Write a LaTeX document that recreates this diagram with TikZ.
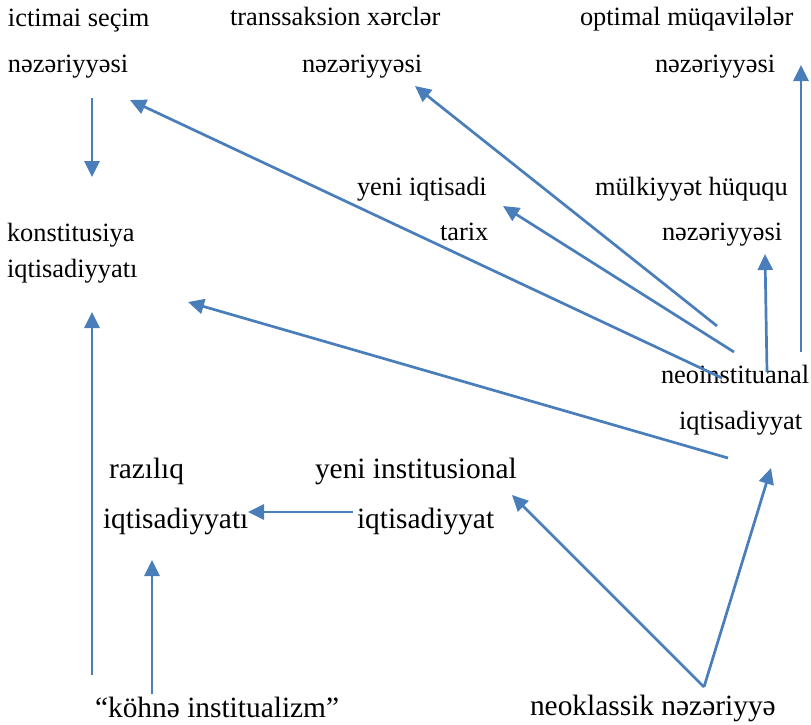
\documentclass[tikz,border=0pt]{standalone}
\usepackage{fontspec}
\setmainfont{Liberation Serif}
\usetikzlibrary{arrows.meta}
\definecolor{arrowblue}{RGB}{74,126,187}
\tikzset{
  small/.style={anchor=base west,inner sep=0pt,outer sep=0pt,font=\fontsize{26.4pt}{30pt}\selectfont},
  large/.style={anchor=base west,inner sep=0pt,outer sep=0pt,font=\fontsize{29.4pt}{34pt}\selectfont},
  link/.style={draw=arrowblue,line width=2.7pt,-{Triangle[length=16pt,width=15pt]}}
}
\begin{document}
\begin{tikzpicture}[x=1pt,y=-1pt]
\useasboundingbox (0,0) rectangle (811,725);
% texts
\node[small] (ict1) at (8,27) {ictimai seçim};
\node[small] (ict2) at (8,72) {nəzəriyyəsi};
\node[small] (tra1) at (230,26) {transsaksion xərclər};
\node[small] (tra2) at (302,72) {nəzəriyyəsi};
\node[small] (opt1) at (580,26) {optimal müqavilələr};
\node[small] (opt2) at (655,72) {nəzəriyyəsi};
\node[small] (yit1) at (357,195) {yeni iqtisadi};
\node[small] (yit2) at (440,240) {tarix};
\node[small] (mul1) at (595,195) {mülkiyyət hüququ};
\node[small] (mul2) at (662,240) {nəzəriyyəsi};
\node[small] (kon1) at (7,241) {konstitusiya};
\node[small] (kon2) at (7,277) {iqtisadiyyatı};
\node[small] (neo1) at (661,383) {neoinstituanal};
\node[small] (neo2) at (679,429) {iqtisadiyyat};
\node[large] (raz1) at (109,478) {razılıq};
\node[large] (raz2) at (103,528) {iqtisadiyyatı};
\node[large] (yin1) at (315,478) {yeni institusional};
\node[large] (yin2) at (357,528) {iqtisadiyyat};
\node[large] (kohne) at (95,717) {“köhnə institualizm”};
\node[large] (neokl) at (530,715) {neoklassik nəzəriyyə};
% connector end points
\coordinate (ictS) at (92,98);
\coordinate (konT) at (92,177);
\coordinate (neoA) at (722,378);
\coordinate (ictT) at (130,100);
\coordinate (neoB) at (717,326);
\coordinate (traT) at (415,86);
\coordinate (neoC) at (734,352);
\coordinate (yitT) at (503,206);
\coordinate (neoD) at (767,372);
\coordinate (mulT) at (765,254);
\coordinate (neoE) at (801,352);
\coordinate (optT) at (801,65);
\coordinate (neoF) at (728,458);
\coordinate (konR) at (188,302);
\coordinate (kohA) at (92,675);
\coordinate (konB) at (92,312);
\coordinate (kohB) at (152,694);
\coordinate (razT) at (152,560);
\coordinate (yinS) at (353,512);
\coordinate (razR) at (248,512);
\coordinate (nkl) at (704,687);
\coordinate (yinT) at (512,495);
\coordinate (neoT) at (771,468);
% connectors
\draw[link] (ictS) -- (konT);
\draw[link] (neoA) -- (ictT);
\draw[link] (neoB) -- (traT);
\draw[link] (neoC) -- (yitT);
\draw[link] (neoD) -- (mulT);
\draw[link] (neoE) -- (optT);
\draw[link] (neoF) -- (konR);
\draw[link] (kohA) -- (konB);
\draw[link] (kohB) -- (razT);
\draw[link] (yinS) -- (razR);
\draw[link] (nkl) -- (yinT);
\draw[link] (nkl) -- (neoT);
\end{tikzpicture}
\end{document}
